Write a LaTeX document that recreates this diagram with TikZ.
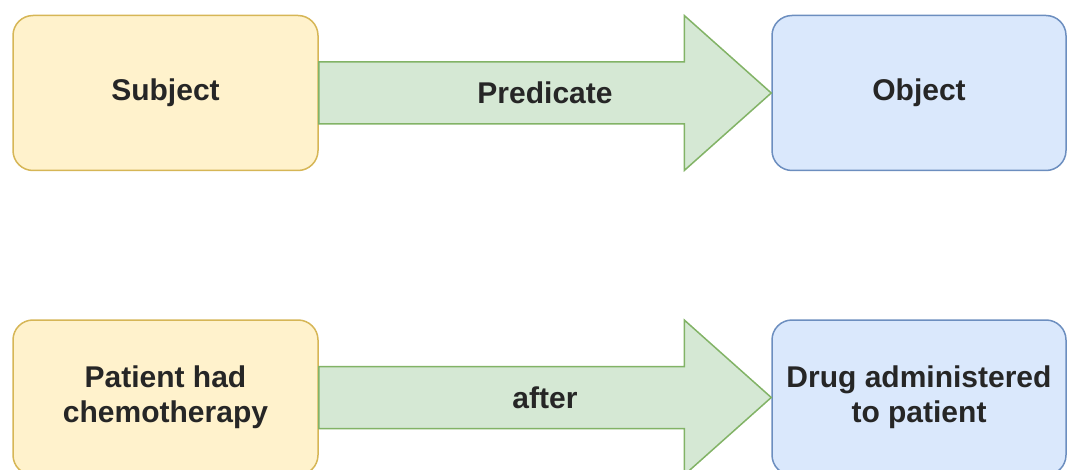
\documentclass[tikz,border=0pt]{standalone}
\usepackage{fontspec}
\setmainfont{Liberation Sans}
\usetikzlibrary{calc}
\definecolor{yfill}{HTML}{FFF2CC}
\definecolor{ydraw}{HTML}{D6B656}
\definecolor{bfill}{HTML}{DAE8FC}
\definecolor{bdraw}{HTML}{6C8EBF}
\definecolor{gfill}{HTML}{D5E8D4}
\definecolor{gdraw}{HTML}{82B366}
\definecolor{txt}{HTML}{262626}
\tikzset{
  box/.style={rectangle, rounded corners=20pt, inner sep=0pt, minimum height=155pt, line width=1.5pt, align=center, font=\fontsize{30}{35}\selectfont\bfseries, text=txt},
  subj/.style={box, fill=yfill, draw=ydraw, minimum width=305pt},
  obj/.style={box, fill=bfill, draw=bdraw, minimum width=294pt},
  fat/.style={fill=gfill, draw=gdraw, line width=1.5pt, line join=miter},
  lbl/.style={font=\fontsize{30}{35}\selectfont\bfseries, text=txt, inner sep=0pt}
}
\begin{document}
\begin{tikzpicture}[x=1pt,y=-1pt]
\useasboundingbox (0,0) rectangle (1067,470);
\clip (0,0) rectangle (1067,470);
\node[subj] (s1) at (165.5,93) {Subject};
\node[obj] (o1) at (919,93) {Object};
\node[subj] (s2) at (165.5,397.5) {Patient had\\chemotherapy};
\node[obj] (o2) at (919,397.5) {Drug administered\\to patient};
\foreach \a/\b/\t in {s1/o1/Predicate, s2/o2/after}{
  \draw[fat] ($(\a.east)+(0,-31)$) -- ($(\b.west)+(-87,-31)$) -- ($(\b.west)+(-87,-77.5)$)
    -- (\b.west) -- ($(\b.west)+(-87,77.5)$) -- ($(\b.west)+(-87,31)$) -- ($(\a.east)+(0,31)$) -- cycle;
  \node[lbl] (l\a) at ($(\a.east)!0.5!(\b.west)$) {\t};
}
\end{tikzpicture}
\end{document}
